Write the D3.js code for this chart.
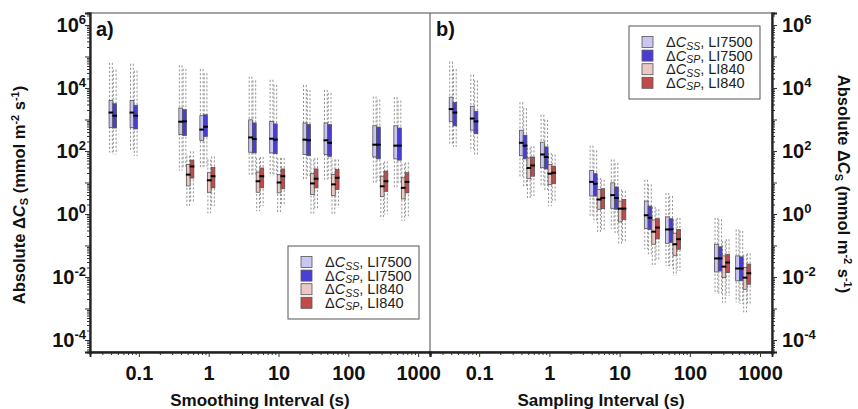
<!DOCTYPE html>
<html>
<head>
<meta charset="utf-8">
<script src="https://cdn.jsdelivr.net/npm/d3@7"></script>
<style>
  body { margin: 0; background: #fff; }
  svg { font-family: "Liberation Sans", Arial, sans-serif; }
</style>
</head>
<body>
<div id="wrapper"></div>
<script>
// 1. Data (log10 of |dC|): [whisker low, q1, median, q3, whisker high]
const seriesKeys = ["SS7500", "SP7500", "SS840", "SP840"]
const seriesSubs = ["SS", "SP", "SS", "SP"]
const seriesInstr = ["LI7500", "LI7500", "LI840", "LI840"]
const seriesColors = ["#c9c7f0", "#4a3dd6", "#ebc8c3", "#c14b4b"]

const xLI7500 = [0.05, 0.1, 0.5, 1, 5, 10, 30, 60, 300, 600]
const xLI840 = [0.5, 1, 5, 10, 30, 60, 300, 600]

const aSS7500 = [
  [1.95, 2.75, 3.22, 3.60, 4.80], [1.99, 2.74, 3.22, 3.60, 4.77],
  [1.38, 2.52, 2.93, 3.36, 4.72], [1.47, 2.33, 2.68, 3.12, 4.60],
  [1.25, 1.96, 2.43, 2.99, 4.36], [1.20, 1.94, 2.39, 2.94, 4.26],
  [1.09, 1.89, 2.36, 2.89, 4.10], [1.09, 1.89, 2.34, 2.89, 3.94],
  [0.99, 1.81, 2.20, 2.80, 3.73], [0.83, 1.75, 2.17, 2.80, 3.71]]
const aSP7500 = [
  [1.89, 2.73, 3.12, 3.50, 4.58], [1.84, 2.70, 3.12, 3.45, 4.55],
  [1.47, 2.49, 2.94, 3.31, 4.61], [1.51, 2.46, 2.77, 3.15, 4.47],
  [1.25, 1.94, 2.38, 2.89, 4.24], [1.25, 1.92, 2.36, 2.86, 4.10],
  [1.15, 1.85, 2.34, 2.84, 3.94], [1.12, 1.83, 2.26, 2.84, 3.84],
  [1.04, 1.75, 2.20, 2.76, 3.63], [0.99, 1.71, 2.17, 2.73, 3.60]]
const aSS840 = [
  [0.25, 0.89, 1.25, 1.57, 1.85], [0.02, 0.69, 1.07, 1.31, 1.73],
  [0.09, 0.69, 1.04, 1.33, 1.78], [0.02, 0.67, 1.00, 1.25, 1.78],
  [-0.01, 0.62, 0.97, 1.28, 1.73], [-0.01, 0.59, 0.94, 1.25, 1.73],
  [-0.17, 0.55, 0.88, 1.20, 1.62], [-0.22, 0.48, 0.83, 1.15, 1.60]]
const aSP840 = [
  [0.37, 1.14, 1.51, 1.71, 1.99], [0.25, 0.83, 1.20, 1.48, 1.83],
  [0.25, 0.83, 1.20, 1.46, 1.81], [0.25, 0.80, 1.20, 1.43, 1.78],
  [0.15, 0.83, 1.12, 1.43, 1.78], [0.20, 0.78, 1.15, 1.41, 1.73],
  [-0.01, 0.72, 1.04, 1.36, 1.67], [-0.07, 0.67, 1.02, 1.31, 1.64]]

const bSS7500 = [
  [2.20, 2.94, 3.33, 3.71, 4.84], [1.99, 2.66, 3.03, 3.42, 4.42],
  [1.15, 1.85, 2.26, 2.66, 3.55], [0.88, 1.47, 1.89, 2.28, 3.15],
  [-0.12, 0.57, 1.02, 1.38, 2.17], [-0.47, 0.18, 0.60, 0.99, 1.73],
  [-1.12, -0.46, -0.04, 0.41, 1.09], [-1.65, -0.93, -0.49, -0.09, 0.67],
  [-2.54, -1.84, -1.41, -0.96, -0.12], [-2.81, -2.12, -1.73, -1.33, -0.49]]
const bSP7500 = [
  [2.13, 2.80, 3.22, 3.54, 4.60], [1.83, 2.55, 2.94, 3.26, 4.24],
  [0.88, 1.75, 2.17, 2.50, 3.36], [0.72, 1.43, 1.81, 2.13, 2.99],
  [-0.28, 0.57, 0.96, 1.28, 2.02], [-0.65, 0.15, 0.51, 0.86, 1.62],
  [-1.28, -0.49, -0.12, 0.25, 0.94], [-1.73, -0.91, -0.49, -0.15, 0.57],
  [-2.54, -1.81, -1.41, -1.04, -0.17], [-2.86, -2.12, -1.73, -1.36, -0.54]]
const bSS840 = [
  [0.46, 1.12, 1.46, 1.78, 2.10], [0.25, 0.94, 1.28, 1.57, 1.94],
  [-0.59, 0.15, 0.46, 0.78, 1.15], [-0.96, -0.25, 0.17, 0.41, 0.78],
  [-1.65, -0.96, -0.56, -0.19, 0.23], [-1.96, -1.31, -0.96, -0.61, -0.17],
  [-2.81, -2.02, -1.67, -1.33, -0.86], [-3.12, -2.39, -2.02, -1.70, -1.28]]
const bSP840 = [
  [0.57, 1.20, 1.54, 1.81, 2.15], [0.36, 0.97, 1.31, 1.52, 1.89],
  [-0.49, 0.17, 0.51, 0.80, 1.09], [-0.86, -0.17, 0.17, 0.46, 0.73],
  [-1.49, -0.79, -0.43, -0.15, 0.15], [-1.81, -1.12, -0.80, -0.49, -0.12],
  [-2.60, -1.86, -1.54, -1.28, -0.80], [-2.91, -2.23, -1.88, -1.59, -1.25]]

const xTickValues = [0.1, 1, 10, 100, 1000]
const yLabelExps = [-4, -2, 0, 2, 4, 6]

// 2. Dimensions
const dimensions = {
  width: 858, height: 409,
  left: 90, mid: 430, right: 772, top: 13, bottom: 352,
}

const rows = (xs, stats, key) => xs.map((x, i) => ({
  key, x,
  lo: 10 ** stats[i][0], q1: 10 ** stats[i][1], med: 10 ** stats[i][2],
  q3: 10 ** stats[i][3], hi: 10 ** stats[i][4],
}))

const panels = [
  {
    label: "a)", title: "Smoothing Interval (s)",
    range: [dimensions.left, dimensions.mid],
    boxes: [rows(xLI7500, aSS7500, "SS7500"), rows(xLI7500, aSP7500, "SP7500"),
            rows(xLI840, aSS840, "SS840"), rows(xLI840, aSP840, "SP840")].flat(),
    legend: { x: 288, y: 246 },
  },
  {
    label: "b)", title: "Sampling Interval (s)",
    range: [dimensions.mid, dimensions.right],
    boxes: [rows(xLI7500, bSS7500, "SS7500"), rows(xLI7500, bSP7500, "SP7500"),
            rows(xLI840, bSS840, "SS840"), rows(xLI840, bSP840, "SP840")].flat(),
    legend: { x: 629, y: 26 },
  },
]

// 3. Canvas
const svg = d3.select("#wrapper").append("svg")
  .attr("width", dimensions.width)
  .attr("height", dimensions.height)

// 4. Scales
const yScale = d3.scaleLog()
  .domain([10 ** -4.38, 10 ** 6.38])
  .range([dimensions.bottom, dimensions.top])

const dodge = d3.scaleBand().domain(seriesKeys).range([-8.8, 6.2])
const color = d3.scaleOrdinal().domain(seriesKeys).range(seriesColors)

const yMinor = []
for (let e = -5; e <= 6; e++) for (let m = 2; m <= 9; m++) {
  const v = m * 10 ** e
  if (v > yScale.domain()[0] && v < yScale.domain()[1]) yMinor.push(v)
}
const yMajor = d3.range(-4, 7).map(e => 10 ** e)

// frame
svg.append("rect")
  .attr("x", dimensions.left).attr("y", dimensions.top)
  .attr("width", dimensions.right - dimensions.left)
  .attr("height", dimensions.bottom - dimensions.top)
  .attr("fill", "none").attr("stroke", "#666").attr("stroke-width", 1.2)
svg.append("line")
  .attr("x1", dimensions.mid).attr("x2", dimensions.mid)
  .attr("y1", dimensions.top).attr("y2", dimensions.bottom)
  .attr("stroke", "#666").attr("stroke-width", 1.2)

// 5. Panels
panels.forEach(p => {
  const xScale = d3.scaleLog().domain([10 ** -1.7, 10 ** 3.17]).range(p.range)
  const cx = d => xScale(d.x) + dodge(d.key) + dodge.bandwidth() / 2
  const bw = dodge.bandwidth()
  const g = svg.append("g")

  // whiskers: dashed lines on both edges of every box
  g.append("g").selectAll("g")
    .data(p.boxes)
    .join("g")
    .each(function(d) {
      [-bw / 2 + 0.5, bw / 2 - 0.5].forEach(off => {
        d3.select(this).append("line")
          .attr("x1", cx(d) + off).attr("x2", cx(d) + off)
          .attr("y1", yScale(d.hi)).attr("y2", yScale(d.lo))
          .attr("stroke", "#8a8a8a").attr("stroke-width", 0.9)
          .attr("stroke-dasharray", "2.2,1.8")
      })
    })

  g.append("g").selectAll("rect")
    .data(p.boxes)
    .join("rect")
    .attr("x", d => cx(d) - bw / 2)
    .attr("width", bw)
    .attr("y", d => yScale(d.q3))
    .attr("height", d => yScale(d.q1) - yScale(d.q3))
    .attr("fill", d => color(d.key))
    .attr("stroke", "#555").attr("stroke-width", 0.8)

  g.append("g").selectAll("line")
    .data(p.boxes)
    .join("line")
    .attr("x1", d => cx(d) - bw / 2 - 0.5)
    .attr("x2", d => cx(d) + bw / 2 + 0.5)
    .attr("y1", d => yScale(d.med)).attr("y2", d => yScale(d.med))
    .attr("stroke", "#000").attr("stroke-width", 2)

  // x axis
  const xMinor = []
  for (let e = -2; e <= 3; e++) for (let m = 2; m <= 9; m++) {
    const v = m * 10 ** e
    if (v > xScale.domain()[0] && v < xScale.domain()[1]) xMinor.push(v)
  }
  const xAxisMinor = svg.append("g")
    .attr("transform", `translate(0,${dimensions.bottom})`)
    .call(d3.axisBottom(xScale).tickValues(xMinor).tickSize(3).tickFormat(""))
  const xAxis = svg.append("g")
    .attr("transform", `translate(0,${dimensions.bottom})`)
    .call(d3.axisBottom(xScale).tickValues(xTickValues).tickSize(5).tickPadding(9)
      .tickFormat(d => String(d)))
  ;[xAxisMinor, xAxis].forEach(a => {
    a.select(".domain").attr("stroke", "#222").attr("stroke-width", 1.8)
    a.selectAll(".tick line").attr("stroke", "#333")
  })
  xAxis.selectAll(".tick text")
    .attr("fill", "#111").style("font-size", "20px").style("font-weight", "bold")

  svg.append("text")
    .attr("x", (p.range[0] + p.range[1]) / 2)
    .attr("y", 406)
    .attr("text-anchor", "middle")
    .style("font-size", "17px").style("font-weight", "bold").attr("fill", "#111")
    .text(p.title)

  svg.append("text")
    .attr("x", p.range[0] + 6).attr("y", 36)
    .style("font-size", "20px").style("font-weight", "bold").attr("fill", "#111")
    .text(p.label)

  // legend
  const lg = svg.append("g").attr("transform", `translate(${p.legend.x},${p.legend.y})`)
  lg.append("rect").attr("width", 131).attr("height", 73)
    .attr("fill", "#fff").attr("stroke", "#555").attr("stroke-width", 1)
  const item = lg.selectAll("g")
    .data(seriesKeys)
    .join("g")
    .attr("transform", (d, i) => `translate(0,${16 + i * 13.6})`)
  item.append("rect")
    .attr("x", 13).attr("y", -5.5).attr("width", 11).attr("height", 11)
    .attr("fill", d => color(d)).attr("stroke", "#555").attr("stroke-width", 0.8)
  const t = item.append("text")
    .attr("x", 37).attr("y", 5)
    .style("font-size", "14.5px").attr("fill", "#222")
  t.append("tspan").text("\u0394")
  t.append("tspan").style("font-style", "italic").text("C")
  t.append("tspan").style("font-style", "italic").style("font-size", "10.5px")
    .attr("dy", 2.5).text((d, i) => seriesSubs[i])
  t.append("tspan").attr("dy", -2.5).text((d, i) => ", " + seriesInstr[i])
})

// 6. Y axes (left and right)
const yAxes = [
  { x: dimensions.left, gen: d3.axisLeft, anchor: "end", tx: -4, rot: -90, title: 25 },
  { x: dimensions.right, gen: d3.axisRight, anchor: "start", tx: 10, rot: 90, title: 838 },
]
yAxes.forEach(a => {
  const minor = svg.append("g").attr("transform", `translate(${a.x},0)`)
    .call(a.gen(yScale).tickValues(yMinor).tickSize(3).tickFormat(""))
  const major = svg.append("g").attr("transform", `translate(${a.x},0)`)
    .call(a.gen(yScale).tickValues(yMajor).tickSize(5).tickFormat(""))
  ;[minor, major].forEach(s => {
    s.select(".domain").attr("stroke", "#222").attr("stroke-width", 1.8)
    s.selectAll(".tick line").attr("stroke", "#333")
  })

  const labels = svg.append("g").selectAll("text")
    .data(yLabelExps)
    .join("text")
    .attr("x", a.x + a.tx)
    .attr("y", e => yScale(10 ** e) + 7)
    .attr("text-anchor", a.anchor)
    .style("font-size", "20px").style("font-weight", "bold").attr("fill", "#111")
  labels.append("tspan").text("10")
  labels.append("tspan").attr("dy", -8).style("font-size", "13px").text(e => String(e))

  const title = svg.append("text")
    .attr("transform", `translate(${a.title},${a.rot < 0 ? 195 : 184}) rotate(${a.rot})`)
    .attr("text-anchor", "middle")
    .style("font-size", "16.5px").style("font-weight", "bold").attr("fill", "#111")
  title.append("tspan").text("Absolute \u0394")
  title.append("tspan").style("font-style", "italic").text("C")
  title.append("tspan").style("font-size", "11px").attr("dy", 3).text("S")
  title.append("tspan").attr("dy", -3).text(" (mmol m")
  title.append("tspan").style("font-size", "11px").attr("dy", -6).text("-2")
  title.append("tspan").attr("dy", 6).text(" s")
  title.append("tspan").style("font-size", "11px").attr("dy", -6).text("-1")
  title.append("tspan").attr("dy", 6).text(")")
})
</script>
</body>
</html>
